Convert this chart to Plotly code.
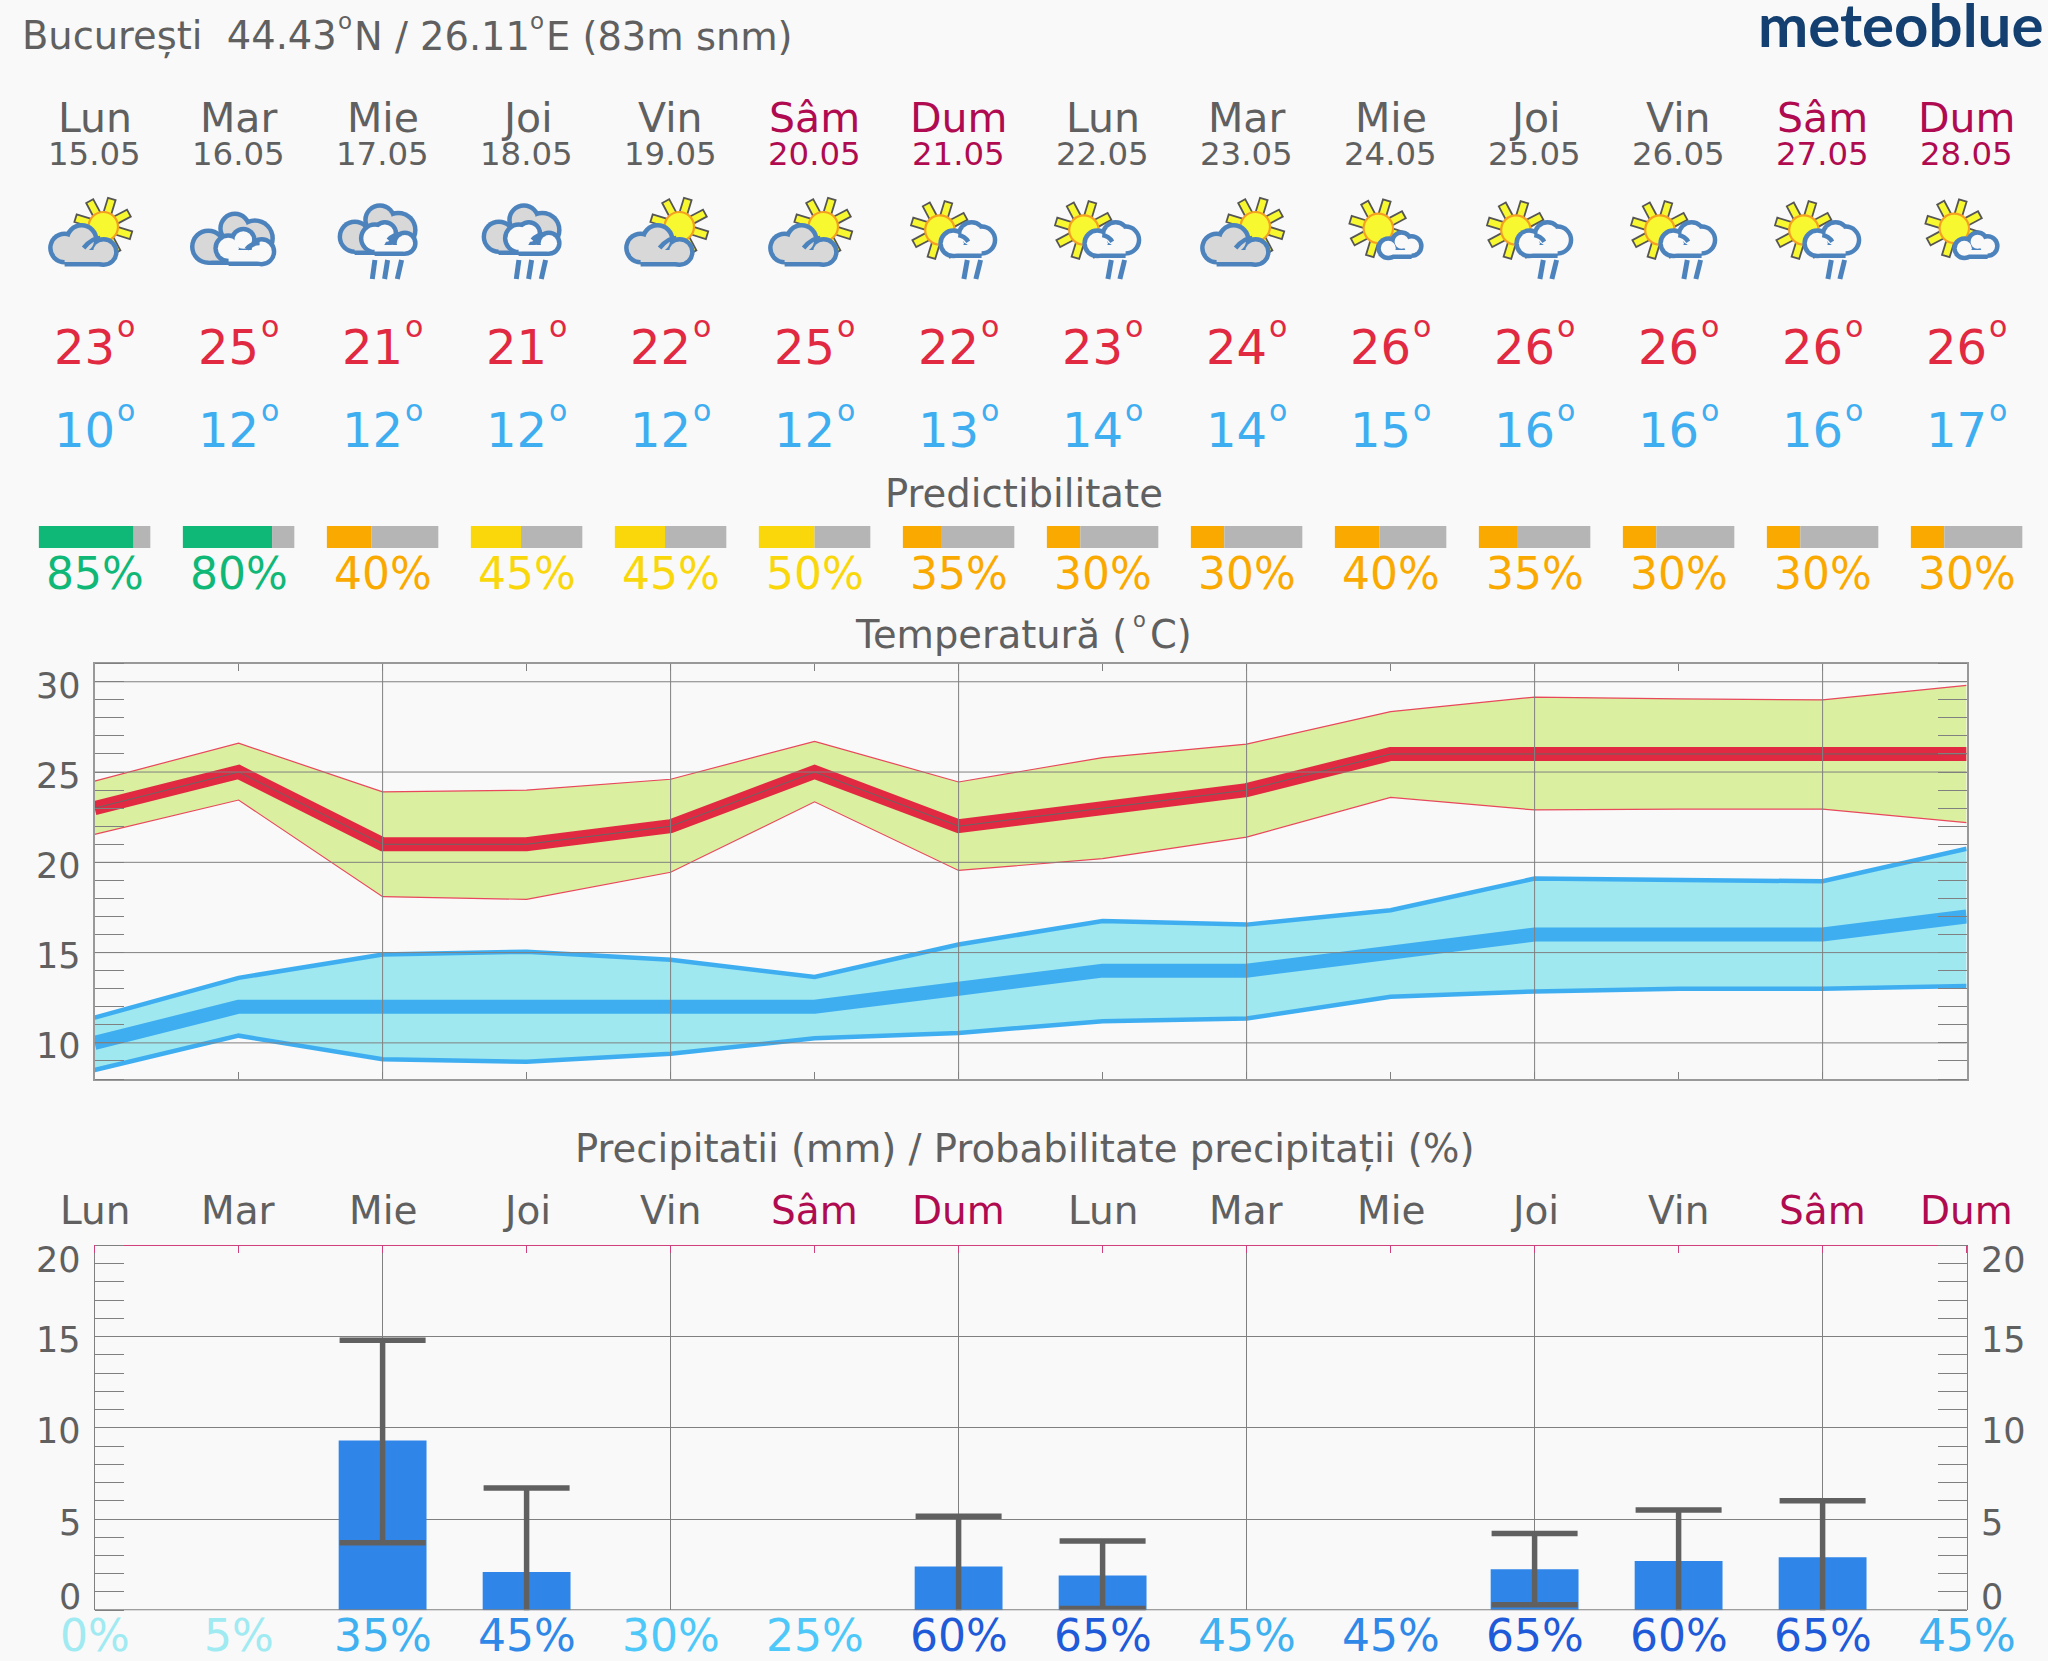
import math
import plotly.graph_objects as go

FONT = "DejaVu Sans"
TEXT_GREY = "#606060"
WEEKEND = "#B00B50"
BG = "#F9F9F9"

# --- data ---
DAY_NAMES = ["Lun", "Mar", "Mie", "Joi", "Vin", "Sâm", "Dum", "Lun", "Mar", "Mie", "Joi", "Vin", "Sâm", "Dum"]
DATES = ["15.05", "16.05", "17.05", "18.05", "19.05", "20.05", "21.05", "22.05", "23.05", "24.05", "25.05", "26.05", "27.05", "28.05"]
ICONS = ["sun_cloud", "clouds", "clouds_rain", "clouds_rain", "sun_cloud", "sun_cloud", "sun_rain",
         "sun_rain", "sun_cloud", "sun_small", "sun_rain", "sun_rain", "sun_rain", "sun_small"]

T_MAX = [23, 25, 21, 21, 22, 25, 22, 23, 24, 26, 26, 26, 26, 26]
T_MAX_HIGH = [24.5, 26.6, 23.9, 24.0, 24.6, 26.7, 24.45, 25.8, 26.55, 28.35, 29.15, 29.05, 29.0, 29.8]
T_MAX_LOW = [21.55, 23.45, 18.1, 17.95, 19.45, 23.35, 19.55, 20.2, 21.4, 23.6, 22.9, 22.95, 22.95, 22.2]
T_MIN = [10, 12, 12, 12, 12, 12, 13, 14, 14, 15, 16, 16, 16, 17]
T_MIN_HIGH = [11.4, 13.6, 14.9, 15.05, 14.6, 13.65, 15.45, 16.75, 16.55, 17.35, 19.1, 19.0, 18.95, 20.75]
T_MIN_LOW = [8.5, 10.4, 9.1, 8.95, 9.4, 10.25, 10.55, 11.2, 11.35, 12.55, 12.85, 13.0, 13.0, 13.15]

PREDICT = [85, 80, 40, 45, 45, 50, 35, 30, 30, 40, 35, 30, 30, 30]

PRECIP = [None, None, 9.3, 2.1, None, None, 2.4, 1.9, None, None, 2.25, 2.7, 2.9, None]
PRECIP_HIGH = [None, None, 14.8, 6.7, None, None, 5.15, 3.8, None, None, 4.2, 5.5, 6.0, None]
PRECIP_LOW = [None, None, 3.7, -0.4, None, None, -0.4, 0.1, None, None, 0.3, -0.4, -0.4, None]
PRECIP_PROB = [0, 5, 35, 45, 30, 25, 60, 65, 45, 45, 65, 60, 65, 45]

TEMP_TICKS = [30, 25, 20, 15, 10]
RAIN_TICKS = [20, 15, 10, 5, 0]
GRID_DAYS = [2, 4, 6, 8, 10, 12]

# colours of the text rows
PROB_COLORS = ["#A0EAF2", "#A0EAF2", "#3FB0F0", "#2F88E8", "#4DC8F8", "#4DC8F8", "#1F5AD8",
               "#1F5AD8", "#3FB0F0", "#2F88E8", "#1F5AD8", "#1F5AD8", "#1F5AD8", "#3FB0F0"]


def predict_color(p):
    if p >= 60:
        return "#10B878"
    if p >= 45:
        return "#F9D70A"
    return "#FAA900"


days = list(range(14))
W, H = 2048, 1661
LEFT, RIGHT = 94.6, 1966.6
STEP = (RIGHT - LEFT) / 13


def ydom(top, bottom):
    return [1 - bottom / H, 1 - top / H]


fig = go.Figure()

# temperature bands
BAND_RED = "#E8475C"
fig.add_trace(go.Scatter(x=days, y=T_MAX_HIGH, mode="lines", line=dict(color=BAND_RED, width=1.2), xaxis="x", yaxis="y"))
fig.add_trace(go.Scatter(x=days, y=T_MAX_LOW, mode="lines", line=dict(color=BAND_RED, width=1.2), fill="tonexty",
                         fillcolor="#DAEF9F", xaxis="x", yaxis="y"))
fig.add_trace(go.Scatter(x=days, y=T_MIN_HIGH, mode="lines", line=dict(color="#3FAEF0", width=4.5), xaxis="x", yaxis="y"))
fig.add_trace(go.Scatter(x=days, y=T_MIN_LOW, mode="lines", line=dict(color="#3FAEF0", width=4.5), fill="tonexty",
                         fillcolor="#9FE8F0", xaxis="x", yaxis="y"))
fig.add_trace(go.Scatter(x=days, y=T_MAX, mode="lines", line=dict(color="#E12A42", width=14), xaxis="x", yaxis="y"))
fig.add_trace(go.Scatter(x=days, y=T_MAX, mode="lines", line=dict(color="#666666", width=1), xaxis="x", yaxis="y"))
fig.add_trace(go.Scatter(x=days, y=T_MIN, mode="lines", line=dict(color="#3FAEF0", width=14), xaxis="x", yaxis="y"))

# precipitation bars with their range
fig.add_trace(go.Bar(
    x=days, y=PRECIP, width=0.61, marker=dict(color="#3086E8", line=dict(width=0)),
    error_y=dict(type="data", symmetric=False,
                 array=[None if v is None else h - v for v, h in zip(PRECIP, PRECIP_HIGH)],
                 arrayminus=[None if v is None else v - l for v, l in zip(PRECIP, PRECIP_LOW)],
                 color="#606060", thickness=5.5, width=43),
    xaxis="x2", yaxis="y2"))

# predictability bars
BAR_SPAN = 0.774
fig.add_trace(go.Bar(x=days, y=[1] * 14, offset=-BAR_SPAN / 2, width=[p / 100 * BAR_SPAN for p in PREDICT],
                     marker=dict(color=[predict_color(p) for p in PREDICT], line=dict(width=0)),
                     xaxis="x4", yaxis="y4"))
fig.add_trace(go.Bar(x=days, y=[1] * 14, offset=[-BAR_SPAN / 2 + p / 100 * BAR_SPAN for p in PREDICT],
                     width=[(100 - p) / 100 * BAR_SPAN for p in PREDICT],
                     marker=dict(color="#B5B5B5", line=dict(width=0)), xaxis="x4", yaxis="y4"))

# empty trace, only to keep the pixel overlay axes alive
fig.add_trace(go.Scatter(x=[], y=[], xaxis="x3", yaxis="y3"))

# --- texts, placed on an overlay axis in page pixels ---
notes = []


def text(x, y, s, size, color=TEXT_GREY, anchor="center", family=FONT):
    notes.append(dict(x=x, y=y, xref="x3", yref="y3", text=s, showarrow=False, xanchor=anchor, yanchor="middle",
                      font=dict(family=family, size=size, color=color), borderpad=0, borderwidth=0))


# the raised "o" degree marks are separate texts, they sit higher than <sup> allows
text(22, 36, "București\u00a0\u00a044.43", 38.4, anchor="left")
text(338, 21, "o", 23, anchor="left")
text(354, 36, "N / 26.11", 38.4, anchor="left")
text(530, 21, "o", 23, anchor="left")
text(546, 36, "E (83m snm)", 38.4, anchor="left")
text(2043, 24, "<b>meteoblue</b>", 60, "#134070", anchor="right", family="Lato")
text(W / 2, 493, "Predictibilitate", 38.6)
text(855, 634, "Temperatură (", 38.4, anchor="left")
text(1133, 619.5, "o", 21, anchor="left")
text(1150, 634, "C)", 38.4, anchor="left")
text(W / 2, 1149, "Precipitatii (mm) / Probabilitate precipitații (%)", 38.6)

for i in days:
    cx = LEFT + i * STEP
    day_color = WEEKEND if DAY_NAMES[i] in ("Sâm", "Dum") else TEXT_GREY
    text(cx, 118, DAY_NAMES[i], 41, day_color)
    text(cx, 154, DATES[i], 32.4, day_color)
    text(cx + 20, 347, str(T_MAX[i]), 48, "#E12A42", anchor="right")
    text(cx + 22, 326.7, "o", 30, "#E12A42", anchor="left")
    text(cx + 20, 430, str(T_MIN[i]), 48, "#3FAEF0", anchor="right")
    text(cx + 22, 410, "o", 30, "#3FAEF0", anchor="left")
    text(cx, 573, "%d%%" % PREDICT[i], 44, predict_color(PREDICT[i]))
    text(cx, 1210, DAY_NAMES[i], 39, day_color)
    text(cx, 1635, "%d%%" % PRECIP_PROB[i], 44, PROB_COLORS[i])

TEMP_LABEL_Y = [685.5, 775.7, 865.7, 955.7, 1046]
RAIN_LABEL_Y = [1260.4, 1340, 1431.4, 1522.8, 1597.3]
for t, y in zip(TEMP_TICKS, TEMP_LABEL_Y):
    text(81, y, str(t), 35, anchor="right")
for t, y in zip(RAIN_TICKS, RAIN_LABEL_Y):
    text(81, y, str(t), 35, anchor="right")
    text(1981, y, str(t), 35, anchor="left")

# --- weather icons, as page pixel shapes ---
shapes = []
BLUE = "#4D83BD"
YELLOW = "#F8F830"
CLOUD_GREY = "#D8D8D8"


def line(x, y, dx0, y0, dx1, y1, width, color=BLUE):
    shapes.append(dict(type="line", xref="x3", yref="y3", x0=x + dx0, y0=y0, x1=x + dx1, y1=y1,
                       line=dict(color=color, width=width), layer="above"))


def circle(cx, cy, r, fill):
    shapes.append(dict(type="circle", xref="x3", yref="y3", x0=cx - r, x1=cx + r, y0=cy - r, y1=cy + r,
                       fillcolor=fill, line=dict(width=0), layer="above"))


def box(x0, x1, y0, y1, fill):
    shapes.append(dict(type="rect", xref="x3", yref="y3", x0=x0, x1=x1, y0=y0, y1=y1,
                       fillcolor=fill, line=dict(width=0), layer="above"))


def sun(cx, cy, r=14.7):
    for k in range(8):
        a = math.radians(73 + 45 * k)
        ux, uy = math.cos(a), -math.sin(a)
        px, py = -uy * 4, ux * 4
        pts = [(cx + ux * 12 + px, cy + uy * 12 + py), (cx + ux * 29 + px, cy + uy * 29 + py),
               (cx + ux * 29 - px, cy + uy * 29 - py), (cx + ux * 12 - px, cy + uy * 12 - py)]
        path = "M" + " L".join("%.1f,%.1f" % p for p in pts) + " Z"
        shapes.append(dict(type="path", xref="x3", yref="y3", path=path, fillcolor=YELLOW,
                           line=dict(color="#555555", width=1.8), layer="above"))
    shapes.append(dict(type="circle", xref="x3", yref="y3", x0=cx - r, x1=cx + r, y0=cy - r, y1=cy + r,
                       fillcolor=YELLOW, line=dict(color="#F5A020", width=2.2), layer="above"))


def cloud(x, blobs, base, fill, hook=None):
    # outer blobs first, then the same blobs shrunk: the union keeps one outline
    for dx, y, r in blobs:
        circle(x + dx, y, r, BLUE)
    box(x + base[0], x + base[1], base[2], base[3], BLUE)
    for dx, y, r in blobs:
        circle(x + dx, y, r - 4.5, fill)
    box(x + base[0], x + base[1], base[2], base[3] - 4.5, fill)
    if hook:
        x0, y0, xc, yc, x1, y1 = hook
        shapes.append(dict(type="path", xref="x3", yref="y3",
                           path="M%.1f,%.1f Q%.1f,%.1f %.1f,%.1f" % (x + x0, y0, x + xc, yc, x + x1, y1),
                           line=dict(color=BLUE, width=4.5), layer="above"))


def rain(x, strokes):
    for dx0, dx1 in strokes:
        line(x, 0, dx0, 260, dx1, 279, 5)


def icon(kind, x):
    if kind == "sun_cloud":
        sun(x + 8.7, 226.7)
        cloud(x, [(-30, 248, 16.5), (-13, 240, 17), (9, 252, 15)], (-30, 9, 250, 266.5), CLOUD_GREY,
              (-11, 248, -3, 238, 5.5, 238))
    elif kind == "clouds":
        cloud(x, [(-30.3, 246.7, 18.3), (-3.7, 228.3, 16.7), (16.3, 238.3, 20)], (-30, 20, 245, 265), CLOUD_GREY)
        cloud(x, [(-10.3, 248.3, 15), (4.7, 240, 13.3), (23, 251.7, 14.7)], (-10, 23, 250, 266), BG,
              (8, 249, 13, 243, 21, 243))
    elif kind == "clouds_rain":
        cloud(x, [(-27.7, 236.7, 17.3), (-2.7, 220, 16.7), (15.7, 230, 19.3)], (-28, 18, 235, 255), CLOUD_GREY)
        cloud(x, [(-7.7, 238.3, 16), (2.3, 233.3, 13.3), (22.3, 243.3, 12.7)], (-8, 22, 245, 256), BG,
              (5.7, 240, 11, 234, 19, 234))
        rain(x, [(-7.7, -10.3), (5, 2), (19, 14.7)])
    elif kind == "sun_rain":
        sun(x - 18.7, 230)
        cloud(x, [(-5.3, 243.3, 15), (13, 235, 15), (23, 240, 15.7)], (-5, 23, 245, 258), BG,
              (-0.3, 235, 6, 236, 9.7, 241.7))
        rain(x, [(8.7, 5.3), (22, 17.3)])
    elif kind == "sun_small":
        sun(x - 12.3, 228.3)
        cloud(x, [(-2.3, 248.3, 12), (11, 241.7, 11.5), (21, 246, 12)], (-2, 21, 250, 259), BG)


for i in days:
    icon(ICONS[i], LEFT + i * STEP)

# temperature grid stays above the bands, so it is drawn as shapes on the data axes
GRID = "#808080"
for d in GRID_DAYS:
    shapes.append(dict(type="line", xref="x", yref="y domain", x0=d, x1=d, y0=0, y1=1,
                       line=dict(color=GRID, width=1), layer="above"))
for t in TEMP_TICKS:
    shapes.append(dict(type="line", xref="x domain", yref="y", x0=0, x1=1, y0=t, y1=t,
                       line=dict(color=GRID, width=1), layer="above"))
shapes.append(dict(type="line", xref="x2 domain", yref="y2", x0=0, x1=1, y0=0, y1=0,
                   line=dict(color=GRID, width=2), layer="above"))

fig.update_layout(
    width=W, height=H, margin=dict(l=0, r=0, t=0, b=0), showlegend=False, barmode="overlay",
    paper_bgcolor=BG, plot_bgcolor="rgba(0,0,0,0)",
    font=dict(family=FONT, color=TEXT_GREY),
    annotations=notes, shapes=shapes,
    xaxis=dict(domain=[LEFT / W, RIGHT / W], range=[0, 13], anchor="y", tickvals=days, showticklabels=False,
               ticks="inside", ticklen=7, tickcolor=GRID, showgrid=False, zeroline=False,
               showline=True, linecolor="#999999", linewidth=2, mirror="ticks", layer="above traces"),
    yaxis=dict(domain=ydom(663.7, 1079), range=[8, 31], anchor="x", tickvals=TEMP_TICKS, showticklabels=False,
               ticks="", showgrid=False, zeroline=False,
               minor=dict(dtick=1, ticks="inside", ticklen=29, tickcolor=GRID, tickwidth=1, showgrid=False),
               showline=True, linecolor="#999999", linewidth=2, mirror="ticks", layer="above traces"),
    xaxis2=dict(domain=[LEFT / W, RIGHT / W], range=[0, 13], anchor="y2", side="top", tickvals=GRID_DAYS,
                showticklabels=False, ticks="", showgrid=True, gridcolor=GRID, gridwidth=1, zeroline=False,
                minor=dict(tickvals=days, ticks="inside", ticklen=7, tickcolor="#D0407A", tickwidth=1, showgrid=False),
                showline=True, linecolor="#D0407A", linewidth=1),
    yaxis2=dict(domain=ydom(1245.5, 1610.2), range=[0, 20], anchor="x2", tickvals=RAIN_TICKS, showticklabels=False,
                ticks="", showgrid=True, gridcolor=GRID, gridwidth=1, zeroline=False,
                minor=dict(dtick=1, ticks="inside", ticklen=29, tickcolor=GRID, tickwidth=1, showgrid=False),
                showline=True, linecolor=GRID, linewidth=1, mirror="ticks"),
    xaxis3=dict(domain=[0, 1], range=[0, W], anchor="y3", visible=False),
    yaxis3=dict(domain=[0, 1], range=[H, 0], anchor="x3", visible=False),
    xaxis4=dict(domain=[0, 1], range=[-LEFT / STEP, (W - LEFT) / STEP], anchor="y4", visible=False),
    yaxis4=dict(domain=ydom(526, 548), range=[0, 1], anchor="x4", visible=False),
)

fig.write_html("out.html", config=dict(displayModeBar=False),
               post_script="document.body.style.margin='0';document.body.style.overflow='hidden';")
